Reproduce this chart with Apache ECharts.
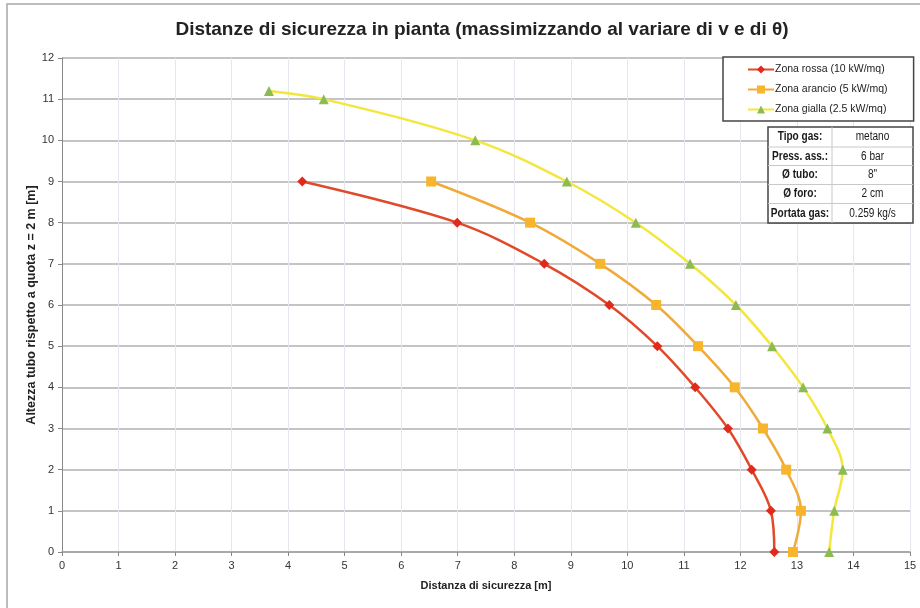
<!DOCTYPE html>
<html>
<head>
<meta charset="utf-8">
<script src="https://cdn.jsdelivr.net/npm/echarts@6/dist/echarts.min.js"></script>
<style>
  html, body { margin: 0; padding: 0; background: #fff; }
  #chart { width: 920px; height: 608px; }
</style>
</head>
<body>
<div id="chart"></div>
<script>
// Safety distance (x, m) reached at each pipe height (y, m) for the three thermal zones
const heights = [9, 8, 7, 6, 5, 4, 3, 2, 1, 0];
const heightsYellow = [11.2, 11, 10, 9, 8, 7, 6, 5, 4, 3, 2, 1, 0];
const redDist = [4.25, 6.99, 8.53, 9.68, 10.53, 11.2, 11.78, 12.2, 12.54, 12.6];
const orangeDist = [6.53, 8.28, 9.52, 10.51, 11.25, 11.9, 12.4, 12.81, 13.07, 12.93];
const yellowDist = [3.66, 4.63, 7.31, 8.93, 10.15, 11.11, 11.92, 12.56, 13.11, 13.54, 13.81, 13.66, 13.57];

const seriesNames = ['Zona rossa (10 kW/mq)', 'Zona arancio (5 kW/mq)', 'Zona gialla (2.5 kW/mq)'];

// Gas release parameters
const tableLabels = ['Tipo gas:', 'Press. ass.:', 'Ø tubo:', 'Ø foro:', 'Portata gas:'];
const tableValues = ['metano', '6 bar', '8"', '2 cm', '0.259 kg/s'];

const FONT = '"Liberation Sans", Arial, sans-serif';

function pairs(xs, ys) { return xs.map((x, i) => [x, ys[i]]); }

const chart = echarts.init(document.getElementById('chart'), null, { renderer: 'canvas' });

// Parameter table (drawn under the legend box); text is squeezed horizontally to a narrow face
const tX = 768, tY = 127, tW = 145, colSplit = 832;
const rowH = [20, 18.5, 19, 19, 19.5];
const tableGraphics = [];
let y = tY;
rowH.forEach((h, i) => {
  if (i > 0) {
    tableGraphics.push({ type: 'line', z: 100, shape: { x1: tX, y1: y, x2: tX + tW, y2: y }, style: { stroke: '#c8c8c8', lineWidth: 1 } });
  }
  tableGraphics.push({
    type: 'text', z: 101, x: (tX + colSplit) / 2, y: y + h / 2, scaleX: 0.84,
    style: { text: tableLabels[i], font: 'bold 12px ' + FONT, fill: '#1a1a1a', align: 'center', verticalAlign: 'middle' }
  });
  tableGraphics.push({
    type: 'text', z: 101, x: (colSplit + tX + tW) / 2, y: y + h / 2, scaleX: 0.84,
    style: { text: tableValues[i], font: '12px ' + FONT, fill: '#1a1a1a', align: 'center', verticalAlign: 'middle' }
  });
  y += h;
});
const tH = y - tY;
tableGraphics.unshift({ type: 'rect', z: 99, shape: { x: tX, y: tY, width: tW, height: tH }, style: { fill: '#fff', stroke: '#444', lineWidth: 1.5 } });
tableGraphics.push({ type: 'line', z: 100, shape: { x1: colSplit, y1: tY, x2: colSplit, y2: tY + tH }, style: { stroke: '#c8c8c8', lineWidth: 1 } });

const option = {
  backgroundColor: '#fff',
  animation: false,
  title: {
    text: 'Distanze di sicurezza in pianta (massimizzando al variare di v e di θ)',
    left: 477, top: 15, textAlign: 'center',
    textStyle: { fontFamily: FONT, fontWeight: 'bold', fontSize: 19, color: '#222' }
  },
  legend: {
    orient: 'vertical',
    left: 723, top: 57,
    padding: [7, 26, 6, 24],
    itemGap: 9,
    itemWidth: 26, itemHeight: 10,
    backgroundColor: '#fff',
    borderColor: '#444', borderWidth: 1.5, borderRadius: 0,
    textStyle: { fontFamily: FONT, fontSize: 10.5, color: '#222', padding: [0, 0, 0, -4] },
    data: seriesNames
  },
  grid: { left: 62, right: 10, top: 58, bottom: 56 },
  xAxis: {
    type: 'value', min: 0, max: 15, interval: 1,
    name: 'Distanza di sicurezza [m]', nameLocation: 'middle', nameGap: 28,
    nameMoveOverlap: false,
    nameTextStyle: { fontFamily: FONT, fontWeight: 'bold', fontSize: 11, color: '#222' },
    axisLine: { show: true, lineStyle: { color: '#a0a0a0', width: 1.5 } },
    axisTick: { show: true, length: 4, lineStyle: { color: '#888' } },
    axisLabel: { fontFamily: FONT, fontSize: 11, color: '#333', margin: 8 },
    splitLine: { show: true, lineStyle: { color: '#e6e6ee', width: 1 } }
  },
  yAxis: {
    type: 'value', min: 0, max: 12, interval: 1,
    name: 'Altezza tubo rispetto a quota z = 2 m [m]', nameLocation: 'middle', nameGap: 24,
    nameMoveOverlap: false,
    nameTextStyle: { fontFamily: FONT, fontWeight: 'bold', fontSize: 12.5, color: '#222' },
    axisLine: { show: true, lineStyle: { color: '#888', width: 1 } },
    axisTick: { show: true, length: 4, lineStyle: { color: '#888' } },
    axisLabel: { fontFamily: FONT, fontSize: 11, color: '#333', margin: 8 },
    splitLine: { show: true, lineStyle: { color: '#b0b0b0', width: 1.5 } }
  },
  series: [
    {
      name: seriesNames[0], type: 'line', smooth: 0.35,
      data: pairs(redDist, heights),
      symbol: 'diamond', symbolSize: 10,
      lineStyle: { color: '#e04a2a', width: 2.5 },
      itemStyle: { color: '#e02a1e' },
      z: 4
    },
    {
      name: seriesNames[1], type: 'line', smooth: 0.35,
      data: pairs(orangeDist, heights),
      symbol: 'rect', symbolSize: 10,
      lineStyle: { color: '#f0aa3a', width: 2.5 },
      itemStyle: { color: '#f8b42a' },
      z: 3
    },
    {
      name: seriesNames[2], type: 'line', smooth: 0.35,
      data: pairs(yellowDist, heightsYellow),
      symbol: 'triangle', symbolSize: 10,
      lineStyle: { color: '#f3e63c', width: 2.5 },
      itemStyle: { color: '#8cbc50' },
      z: 2
    }
  ],
  graphic: [
    { type: 'rect', shape: { x: 7, y: 4, width: 940, height: 640 }, style: { fill: 'none', stroke: '#a8a8a8', lineWidth: 1.5 }, silent: true, z: -1 }
  ].concat(tableGraphics)
};

chart.setOption(option);
</script>
</body>
</html>
